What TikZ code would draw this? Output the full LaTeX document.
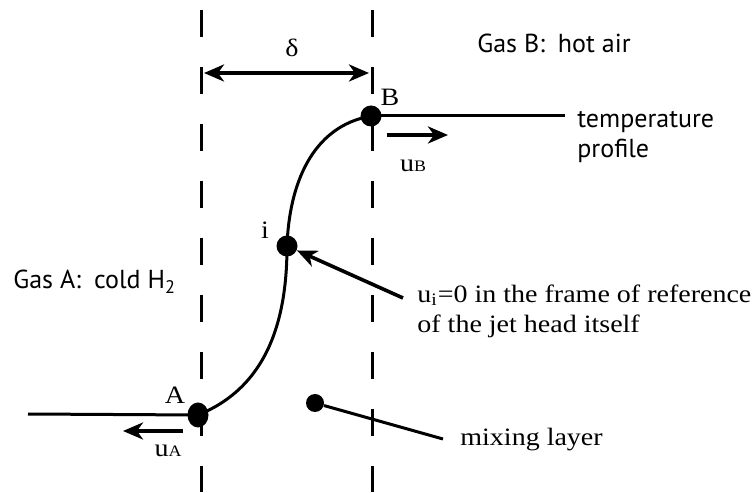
\documentclass[tikz,border=0pt]{standalone}
\usepackage{fontspec}
\setmainfont{Liberation Serif}[FakeStretch=1.12]
\newfontfamily\gasfont{PT Sans}
\usetikzlibrary{arrows.meta,shapes.geometric}
\tikzset{
  dot/.style={circle, fill=black, inner sep=0pt, minimum size=10.5pt},
  bigdot/.style={ellipse, fill=black, inner sep=0pt, minimum width=10.5pt, minimum height=12.5pt},
  smalldot/.style={dot, minimum size=9pt},
  line/.style={line width=1.5pt},
  arr/.style={-{Stealth[length=10pt,width=8.5pt,inset=3pt]}, line width=1.8pt},
  darr/.style={{Stealth[length=10pt,width=8.5pt,inset=3pt]}-{Stealth[length=10pt,width=8.5pt,inset=3pt]}, line width=1.8pt},
  bound/.style={line width=1.5pt, dash pattern=on 13.5pt off 15pt},
  lbl/.style={font=\fontsize{12.5}{15}\selectfont, inner sep=0pt},
  gas/.style={font=\gasfont\fontsize{13}{15}\selectfont, anchor=west, inner sep=0pt, align=left}
}
\begin{document}
\begin{tikzpicture}[x=0.5pt,y=0.5pt]
  \useasboundingbox (0,0) rectangle (754,492);

  % mixing layer bounds
  \draw[bound] (201,482) -- (201,0);
  \draw[bound] (372,482) -- (372,0);

  % points of the profile
  \node[bigdot] (A) at (198,77) {};
  \node[dot] (i) at (287,246) {};
  \node[dot] (B) at (371,376) {};
  \node[smalldot] (mix) at (315,89) {};

  \node[lbl] at (175,97) {A};
  \node[lbl] at (265,262) {i};
  \node[lbl] at (390,395) {B};

  % temperature profile
  \coordinate (Aend) at (28,78);
  \coordinate (Bend) at (565,376);
  \draw[line] (Aend) -- (A.center);
  \draw[line] (A.center) to[out=22,in=-90] (i.center) to[out=88,in=190] (B.center);
  \draw[line] (B.center) -- (Bend);

  % width delta
  \coordinate (dl) at (204,419);
  \coordinate (dr) at (369,419);
  \draw[darr] (dl) -- (dr);
  \node[lbl] at (292,444) {δ};

  % velocities
  \coordinate (uBs) at (387,357);
  \coordinate (uBe) at (448,357);
  \draw[arr] (uBs) -- (uBe);
  \node[lbl] at (413,326) {u{\footnotesize B}};
  \coordinate (uAs) at (183,61);
  \coordinate (uAe) at (123,61);
  \draw[arr] (uAs) -- (uAe);
  \node[lbl] at (168,41) {u{\footnotesize A}};

  % gases
  \node[gas] (gasB) at (477,449) {Gas B:\enspace hot air};
  \node[gas] (gasA) at (13,210) {Gas A:\enspace cold H\textsubscript{2}};
  \node[gas] (temp) at (577,355) {temperature\\profile};

  % notes
  \node[lbl, anchor=west, align=left] (note) at (417,181) {u\textsubscript{i}=0 in the frame of reference\\of the jet head itself};
  \coordinate (notetail) at (403,194);
  \draw[arr] (notetail) -- (i);

  \node[lbl, anchor=west] (mixlbl) at (460,52) {mixing layer};
  \coordinate (mixtail) at (443,53);
  \draw[line] (mix) -- (mixtail);
\end{tikzpicture}
\end{document}
